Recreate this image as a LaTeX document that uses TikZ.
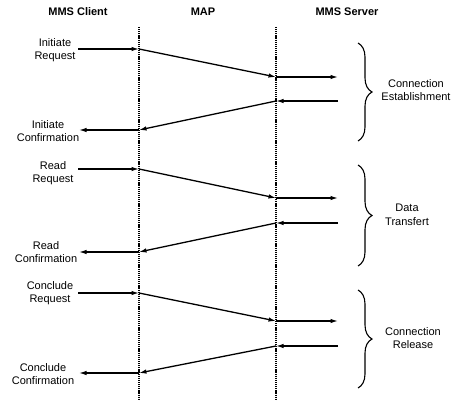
\documentclass[tikz,border=0pt]{standalone}
\usepackage{fontspec}
\setmainfont{Liberation Sans}
\usetikzlibrary{arrows.meta,decorations.pathreplacing}
\begin{document}
\begin{tikzpicture}[x=1pt,y=-1pt,
  lbl/.style={align=center,font=\fontsize{11}{13.5}\selectfont,inner sep=0pt},
  hdr/.style={font=\fontsize{11}{13}\selectfont\bfseries,inner sep=0pt},
  life/.style={line width=1.7pt,dash pattern=on 1.2pt off 0.9pt},
  msg/.style={line width=1.3pt,-{Latex[length=7.5pt,width=4.5pt]}},
  brc/.style={line width=1.1pt,decorate,decoration={brace,amplitude=14pt,aspect=0.5}}]
\useasboundingbox (0,0) rectangle (455,401);
% headers
\node[hdr] (hc) at (78,12) {MMS Client};
\node[hdr] (hm) at (203,12) {MAP};
\node[hdr] (hs) at (347,12) {MMS Server};
% lifelines
\coordinate (lt) at (139,27); \coordinate (lb) at (139,401);
\coordinate (rt) at (276,27); \coordinate (rb) at (276,401);
\draw[life] (lt) -- (lb);
\draw[life] (rt) -- (rb);
% group 1
\node[lbl] (ir) at (55,50) {Initiate\\Request};
\node[lbl] (ic) at (48,131) {Initiate\\Confirmation};
\coordinate (a1) at (78,49); \coordinate (b1) at (139,49);
\coordinate (c1) at (276,77); \coordinate (d1) at (338,77);
\coordinate (e1) at (338,101); \coordinate (f1) at (276,101);
\coordinate (g1) at (139,130); \coordinate (h1) at (79,130);
\draw[msg] (a1) -- (b1);
\draw[msg] (b1) -- (c1);
\draw[msg] (c1) -- (d1);
\draw[msg] (e1) -- (f1);
\draw[msg] (f1) -- (g1);
\draw[msg] (g1) -- (h1);
\coordinate (br1t) at (358,43); \coordinate (br1b) at (358,141);
\draw[brc] (br1t) -- (br1b);
\node[lbl] (ce) at (416,90) {Connection\\Establishment};
% group 2
\node[lbl] (rr) at (53,173) {Read\\Request};
\node[lbl] (rc) at (46,252) {Read\\Confirmation};
\coordinate (a2) at (78,169); \coordinate (b2) at (139,169);
\coordinate (c2) at (276,198); \coordinate (d2) at (338,198);
\coordinate (e2) at (338,223); \coordinate (f2) at (276,223);
\coordinate (g2) at (139,252); \coordinate (h2) at (79,252);
\draw[msg] (a2) -- (b2);
\draw[msg] (b2) -- (c2);
\draw[msg] (c2) -- (d2);
\draw[msg] (e2) -- (f2);
\draw[msg] (f2) -- (g2);
\draw[msg] (g2) -- (h2);
\coordinate (br2t) at (358,165); \coordinate (br2b) at (358,266);
\draw[brc] (br2t) -- (br2b);
\node[lbl] (dt) at (407,215) {Data\\Transfert};
% group 3
\node[lbl] (cr) at (50,293) {Conclude\\Request};
\node[lbl] (cc) at (43,374) {Conclude\\Confirmation};
\coordinate (a3) at (78,293); \coordinate (b3) at (139,293);
\coordinate (c3) at (276,321); \coordinate (d3) at (338,321);
\coordinate (e3) at (338,346); \coordinate (f3) at (276,346);
\coordinate (g3) at (139,373); \coordinate (h3) at (79,373);
\draw[msg] (a3) -- (b3);
\draw[msg] (b3) -- (c3);
\draw[msg] (c3) -- (d3);
\draw[msg] (e3) -- (f3);
\draw[msg] (f3) -- (g3);
\draw[msg] (g3) -- (h3);
\coordinate (br3t) at (358,290); \coordinate (br3b) at (358,388);
\draw[brc] (br3t) -- (br3b);
\node[lbl] (cl) at (413,338) {Connection\\Release};
\end{tikzpicture}
\end{document}
